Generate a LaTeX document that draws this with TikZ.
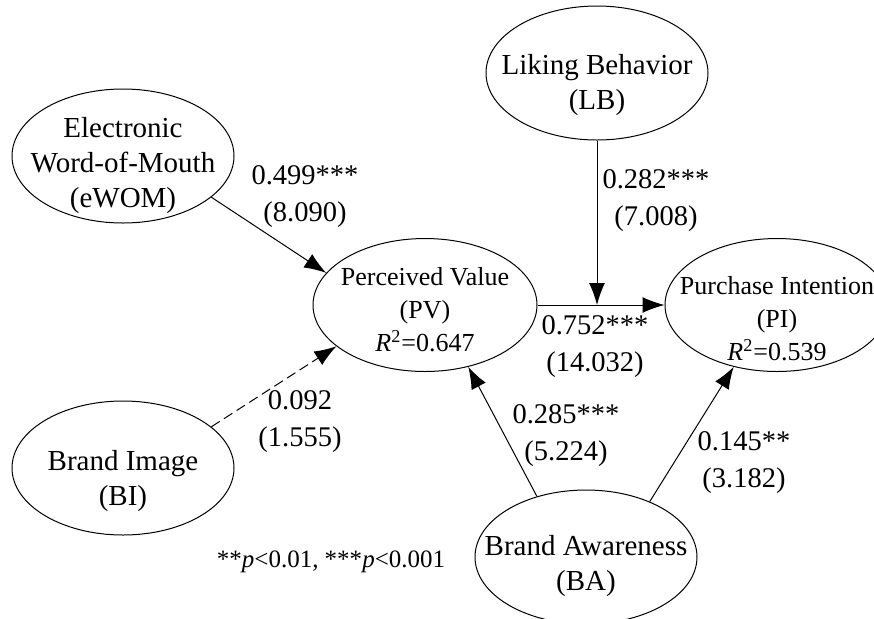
\documentclass[tikz,border=0pt]{standalone}
\usepackage{fontspec}
\setmainfont{Liberation Serif}
\usetikzlibrary{shapes.geometric, arrows.meta}
\tikzset{
  latent/.style={ellipse, draw, line width=0.5pt, inner xsep=-14pt, inner ysep=-6pt,
    minimum width=111pt, minimum height=67pt, align=center, text depth=0pt,
    font=\fontsize{14.5}{17.5}\selectfont},
  endo/.style={latent, minimum width=112pt, minimum height=66.5pt,
    font=\fontsize{13}{16.5}\selectfont},
  effect/.style={-{Latex[length=11pt,width=8pt]}, line width=0.5pt},
  coef/.style={align=center, font=\fontsize{14.25}{18.5}\selectfont}}

\begin{document}
\begin{tikzpicture}[x=0.5pt, y=-0.5pt]
  \useasboundingbox (0,0) rectangle (874,618);
    \node [latent, text height=51pt] (eWOM) at (123,156) {Electronic\\Word-of-Mouth\\(eWOM)};
    \node [latent, text height=37.5pt] (BI) at (123,468) {Brand Image\\(BI)};
        \node [latent, text height=36.5pt] (LB) at (597,73) {Liking Behavior\\(LB)};
        \node [latent, text height=33.5pt] (BA) at (586,557) {Brand Awareness\\(BA)};
           \node [endo, text height=46pt] (PV) at (425,305) {Perceived Value\\(PV)\\\textit{R}\textsuperscript{2}=0.647};
           \node [endo, text height=55pt] (PI) at (777,305) {Purchase Intention\\(PI)\\\textit{R}\textsuperscript{2}=0.539};
    \coordinate (m) at (LB.south |- PV.east);
         \draw [effect] (eWOM.-25) -- (PV.162);
         \draw [effect, dash pattern=on 5pt off 2.5pt] (BI.25) -- (PV.205);
         \draw [effect] (PV) -- (PI);
         \draw [effect] (LB) -- (m);
         \draw [effect] (BA.129) -- (PV.-55);
         \draw [effect] (BA.41) -- (PI.235);
     \node [coef] (c1) at (305,197) {0.499***\\(8.090)};
     \node [coef] (c2) at (300,422) {0.092\\(1.555)};
     \node [coef] (c3) at (656,201) {0.282***\\(7.008)};
     \node [coef] (c4) at (595,347) {0.752***\\(14.032)};
     \node [coef] (c5) at (566,436) {0.285***\\(5.224)};
     \node [coef] (c6) at (744,463) {0.145**\\(3.182)};
     \node [font=\fontsize{12.5}{15}\selectfont] (note) at (331,562) {**\textit{p}<0.01, ***\textit{p}<0.001};
\end{tikzpicture}
\end{document}
